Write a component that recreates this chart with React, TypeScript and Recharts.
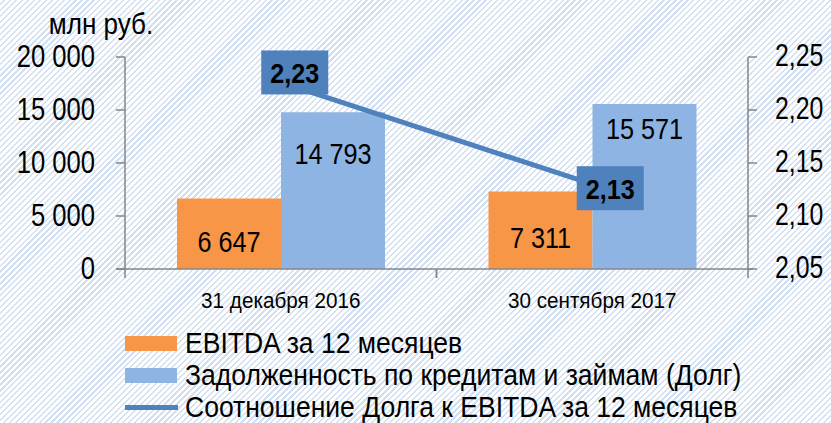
import React from 'react';
import { ComposedChart, Bar, Line, XAxis, YAxis, Legend, LabelList } from 'recharts';

const categories = ['31 декабря 2016', '30 сентября 2017'];
const ebitda = [6647, 7311];
const debt = [14793, 15571];
const ratio = [2.226, 2.13];
const leftTicks = [0, 5000, 10000, 15000, 20000];
const rightTicks = [2.05, 2.1, 2.15, 2.2, 2.25];
const seriesNames = [
  'EBITDA за 12 месяцев',
  'Задолженность по кредитам и займам (Долг)',
  'Соотношение Долга к EBITDA за 12 месяцев',
];
const unitLabel = 'млн руб.';

const data = categories.map((name, i) => ({
  name,
  ebitda: ebitda[i],
  debt: debt[i],
  ratio: ratio[i],
}));

const FONT = "'Liberation Sans', Arial, sans-serif";
const ORANGE = '#F79646';
const LIGHT_BLUE = '#8EB4E3';
const DARK_BLUE = '#4F81BD';
const AXIS = '#868686';
const BAND = (748 - 125) / 2;

const fmtThousands = (v: number) => String(v).replace(/\B(?=(\d{3})+(?!\d))/g, ' ');
const fmtRatio = (v: number) => v.toFixed(2).replace('.', ',');

// condensed text: Liberation Sans squeezed horizontally to look like Arial Narrow
const NText = ({ x, y, anchor = 'middle', size, sx, bold, children }: any) => (
  <text
    transform={`translate(${x},${y}) scale(${sx},1)`}
    x={0}
    y={0}
    textAnchor={anchor}
    dominantBaseline="central"
    fontSize={size}
    fontWeight={bold ? 'bold' : 'normal'}
    fontFamily={FONT}
    fill="#000"
  >
    {children}
  </text>
);

const XTick = (props: any) => {
  const { x, y, payload, index } = props;
  const left = x - BAND / 2;
  return (
    <g>
      {index === 0 && (
        <line x1={left - 9} x2={left + 2 * BAND + 5} y1={y} y2={y} stroke={AXIS} strokeWidth={1.5} />
      )}
      <line x1={left} x2={left} y1={y} y2={y + 9} stroke={AXIS} strokeWidth={1.5} />
      <line x1={left + BAND} x2={left + BAND} y1={y} y2={y + 9} stroke={AXIS} strokeWidth={1.5} />
      <NText x={x} y={y + 32} size={22} sx={0.94}>
        {payload.value}
      </NText>
    </g>
  );
};

const LeftTick = (props: any) => {
  const { x, y, payload } = props;
  return (
    <NText x={x} y={y - 1} anchor="end" size={32} sx={0.8}>
      {fmtThousands(payload.value)}
    </NText>
  );
};

const RightTick = (props: any) => {
  const { x, y, payload } = props;
  return (
    <NText x={x} y={y - 1} anchor="start" size={31} sx={0.8}>
      {fmtRatio(payload.value)}
    </NText>
  );
};

const orangeLabel = (props: any) => {
  const { x, y, width, height, value } = props;
  return (
    <NText x={x + width / 2} y={y + height / 2 + 8} size={29} sx={0.87}>
      {fmtThousands(value)}
    </NText>
  );
};

const blueLabelDy = [42, 25];
const blueLabel = (props: any) => {
  const { x, y, width, value, index } = props;
  return (
    <NText x={x + width / 2} y={y + blueLabelDy[index]} size={29} sx={0.87}>
      {fmtThousands(value)}
    </NText>
  );
};

const boxOffsets = [
  { dx: 14, dy: -10 },
  { dx: 18, dy: 4 },
];
const ratioLabel = (props: any) => {
  const { x, y, value, index } = props;
  const o = boxOffsets[index];
  const cx = x + o.dx;
  const cy = y + o.dy;
  return (
    <g>
      <rect x={cx - 33.5} y={cy - 22} width={67} height={44} fill={DARK_BLUE} />
      <NText x={cx} y={cy + 1} size={28} sx={0.9} bold>
        {fmtRatio(value)}
      </NText>
    </g>
  );
};

const unitText = () => (
  <NText x={101} y={24} size={29} sx={0.9}>
    {unitLabel}
  </NText>
);

const LegendContent = () => {
  const swatches = [
    <div style={{ width: 52, height: 15, background: ORANGE }} />,
    <div style={{ width: 52, height: 15, background: LIGHT_BLUE }} />,
    <div style={{ width: 53, height: 5, background: DARK_BLUE }} />,
  ];
  return (
    <div style={{ paddingLeft: 125, fontFamily: FONT, fontSize: 30, color: '#000' }}>
      {seriesNames.map((n, i) => (
        <div key={n} style={{ display: 'flex', alignItems: 'center', height: 32, lineHeight: '32px' }}>
          <div style={{ width: 53, display: 'flex', alignItems: 'center' }}>{swatches[i]}</div>
          <span
            style={{
              marginLeft: 7,
              whiteSpace: 'nowrap',
              display: 'inline-block',
              transform: 'scaleX(0.884)',
              transformOrigin: 'left center',
            }}
          >
            {n}
          </span>
        </div>
      ))}
    </div>
  );
};

export default function App() {
  return (
    <div
      style={{
        position: 'absolute',
        left: 0,
        top: 0,
        width: 831,
        height: 423,
        overflow: 'hidden',
        background:
          'repeating-linear-gradient(135deg, #ffffff 0px, #ffffff 2.6px, #d3e0f1 2.6px, #d3e0f1 4.2px)',
      }}
    >
      <ComposedChart
        width={831}
        height={423}
        data={data}
        margin={{ top: 57, right: 0, left: 0, bottom: 0 }}
        barGap={0}
        barCategoryGap="16.7%"
      >
        <XAxis
          dataKey="name"
          height={58}
          axisLine={false}
          tickLine={false}
          tickSize={0}
          tickMargin={0}
          tick={<XTick />}
          interval={0}
        />
        <YAxis
          yAxisId="left"
          width={125}
          domain={[0, 20000]}
          ticks={leftTicks}
          axisLine={{ stroke: AXIS, strokeWidth: 1.5 }}
          tickLine={{ stroke: AXIS, strokeWidth: 1.5 }}
          tickSize={9}
          tickMargin={21}
          tick={<LeftTick />}
          label={{ content: unitText }}
          allowDataOverflow
        />
        <YAxis
          yAxisId="right"
          orientation="right"
          width={83}
          domain={[2.05, 2.25]}
          ticks={rightTicks}
          axisLine={{ stroke: AXIS, strokeWidth: 1.5 }}
          tickLine={{ stroke: AXIS, strokeWidth: 1.5 }}
          tickSize={9}
          tickMargin={18}
          tick={<RightTick />}
          allowDataOverflow
        />
        <Legend verticalAlign="bottom" align="left" height={96} wrapperStyle={{ left: 0, width: 831 }} content={<LegendContent />} />
        <Bar yAxisId="left" dataKey="ebitda" name={seriesNames[0]} fill={ORANGE} barSize={104} isAnimationActive={false}>
          <LabelList dataKey="ebitda" content={orangeLabel} />
        </Bar>
        <Bar yAxisId="left" dataKey="debt" name={seriesNames[1]} fill={LIGHT_BLUE} barSize={104} isAnimationActive={false}>
          <LabelList dataKey="debt" content={blueLabel} />
        </Bar>
        <Line
          yAxisId="right"
          dataKey="ratio"
          name={seriesNames[2]}
          stroke={DARK_BLUE}
          strokeWidth={5}
          dot={false}
          activeDot={false}
          isAnimationActive={false}
        >
          <LabelList dataKey="ratio" content={ratioLabel} />
        </Line>
      </ComposedChart>
    </div>
  );
}
